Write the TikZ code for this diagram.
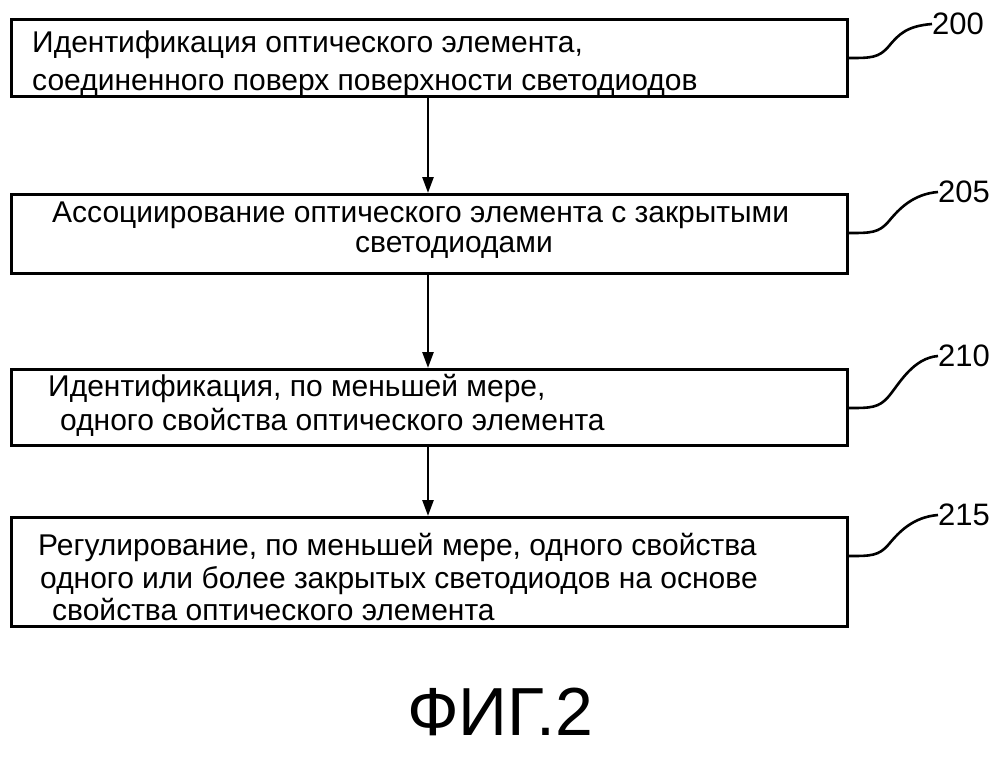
\documentclass[tikz,border=0pt]{standalone}
\usepackage{fontspec}
\setmainfont{Liberation Sans}
\usetikzlibrary{arrows.meta}
\begin{document}
\begin{tikzpicture}[x=1pt,y=-1pt,
  box/.style={draw,line width=3pt},
  txt/.style={anchor=base west,inner sep=0pt,font=\fontsize{30}{36}\selectfont},
  lab/.style={anchor=west,inner sep=0pt,font=\fontsize{31}{36}\selectfont},
  arr/.style={line width=2.6pt,-{Triangle[length=16pt,width=11pt]}},
  sq/.style={line width=2.6pt}]
\useasboundingbox (0,0) rectangle (1000,769);
\node[box,minimum width=836pt,minimum height=77pt,anchor=north west] (b1) at (10,18) {};
\node[box,minimum width=836pt,minimum height=79pt,anchor=north west] (b2) at (10,193) {};
\node[box,minimum width=836pt,minimum height=76pt,anchor=north west] (b3) at (10,368) {};
\node[box,minimum width=836pt,minimum height=109pt,anchor=north west] (b4) at (10,516) {};
\node[txt] (t1a) at (32,52) {Идентификация оптического элемента,};
\node[txt] (t1b) at (32,90) {соединенного поверх поверхности светодиодов};
\node[txt] (t2a) at (52,222) {Ассоциирование оптического элемента с закрытыми};
\node[txt] (t2b) at (355,252) {светодиодами};
\node[txt] (t3a) at (48,396) {Идентификация, по меньшей мере,};
\node[txt] (t3b) at (60,430) {одного свойства оптического элемента};
\node[txt] (t4a) at (38,555) {Регулирование, по меньшей мере, одного свойства};
\node[txt] (t4b) at (40,588) {одного или более закрытых светодиодов на основе};
\node[txt] (t4c) at (52,620) {свойства оптического элемента};
\draw[arr] (b1.south -| 428,0) -- (b2.north -| 428,0);
\draw[arr] (b2.south -| 428,0) -- (b3.north -| 428,0);
\draw[arr] (b3.south -| 428,0) -- (b4.north -| 428,0);
\node[lab] (l1) at (932,24) {200};
\node[lab] (l2) at (938,192) {205};
\node[lab] (l3) at (938,356) {210};
\node[lab] (l4) at (938,515) {215};
\foreach \b/\l in {b1/l1,b2/l2,b3/l3,b4/l4}{
  \draw[sq] ([yshift=-40pt]\b.north east) .. controls +(22,0) and +(-10,12) .. ++(40,-12)
     .. controls +(10,-12) and +(-25,2) .. (\l.west);
}
\node[font=\fontsize{68}{80}\selectfont] (fig) at (500,712) {ФИГ.2};
\end{tikzpicture}
\end{document}
